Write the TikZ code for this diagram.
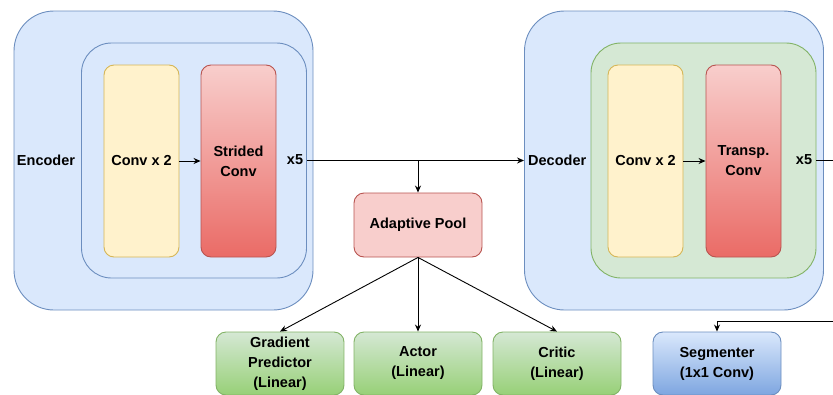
\documentclass[tikz,border=0pt]{standalone}
\usepackage{fontspec}
\setmainfont{Liberation Sans}
\usepackage{tikz}
\usetikzlibrary{arrows.meta}

\definecolor{bluefill}{HTML}{DAE8FC}
\definecolor{bluedraw}{HTML}{6C8EBF}
\definecolor{bluedark}{HTML}{7EA6E0}
\definecolor{greenfill}{HTML}{D5E8D4}
\definecolor{greendraw}{HTML}{82B366}
\definecolor{greendark}{HTML}{97D077}
\definecolor{yellowfill}{HTML}{FFF2CC}
\definecolor{yellowdraw}{HTML}{D6B656}
\definecolor{redfill}{HTML}{F8CECC}
\definecolor{reddraw}{HTML}{B85450}
\definecolor{reddark}{HTML}{EA6B66}

\begin{document}
\begin{tikzpicture}[x=1pt, y=-1pt,
        every node/.style={font=\bfseries\fontsize{14.5}{20}\selectfont, align=center, inner sep=0pt},
        block/.style={draw, line width=0.9pt, rounded corners=10pt, minimum width=75pt, minimum height=192pt},
        outerbox/.style={draw=bluedraw, fill=bluefill, line width=0.9pt, rounded corners=40pt, minimum width=299pt, minimum height=299pt},
        innerbox/.style={line width=0.9pt, rounded corners=30pt, minimum width=225pt, minimum height=235pt},
        convbox/.style={block, draw=yellowdraw, fill=yellowfill},
        redbox/.style={block, draw=reddraw, top color=redfill, bottom color=reddark},
        head/.style={draw=greendraw, line width=0.9pt, rounded corners=10pt, top color=greenfill, bottom color=greendark, minimum width=128pt, minimum height=63pt},
        arr/.style={-{Stealth[length=7pt, width=6pt]}, line width=0.9pt}]
        \useasboundingbox (0,0) rectangle (833,394);
        % encoder
        \node [outerbox] (enc) at (163.5,160.5) {};
        \node [innerbox, draw=bluedraw, fill=bluefill] (encin) at (194,160.5) {};
        \node [convbox] (enccv) at (141.5,161) {Conv x 2};
        \node [redbox] (encst) at (238.5,161) {Strided\\Conv};
        \node (enclbl) at (46,160) {Encoder};
        \node (encx) at (295,160) {x5};
        % decoder
        \node [outerbox] (dec) at (674,160.5) {};
        \node [innerbox, draw=greendraw, fill=greenfill] (decin) at (703.5,160.5) {};
        \node [convbox] (deccv) at (645.5,161) {Conv x 2};
        \node [redbox] (dectr) at (743.5,161) {Transp.\\Conv};
        \node [anchor=west] (declbl) at (528,160) {Decoder};
        \node (decx) at (804,160) {x5};
        % heads
        \node [draw=reddraw, fill=redfill, line width=0.9pt, rounded corners=10pt, minimum width=128pt, minimum height=64pt] (pool) at (418,225) {Adaptive Pool};
        \node [head] (grad) at (280,363.5) {Gradient\\Predictor\\(Linear)};
        \node [head] (actor) at (418,363.5) {Actor\\(Linear)};
        \node [head] (critic) at (557,363.5) {Critic\\(Linear)};
        \node [head, draw=bluedraw, top color=bluefill, bottom color=bluedark] (seg) at (717,363.5) {Segmenter\\(1x1 Conv)};
        \coordinate (split) at (pool.north |- encin.east);
        \coordinate (rt) at (850,160.5);
        \coordinate (rb) at (850,321);
        \draw [arr] (enccv) -- (encst);
        \draw [arr] (deccv) -- (dectr);
        \draw [arr] (encin.east) -- (dec.west);
        \draw [arr] (split) -- (pool);
        \draw [arr] (pool.south) -- (grad.north);
        \draw [arr] (pool.south) -- (actor.north);
        \draw [arr] (pool.south) -- (critic.north);
        \draw [arr] (decin.east) -- (rt) -- (rb) -| (seg.north);
\end{tikzpicture}
\end{document}
